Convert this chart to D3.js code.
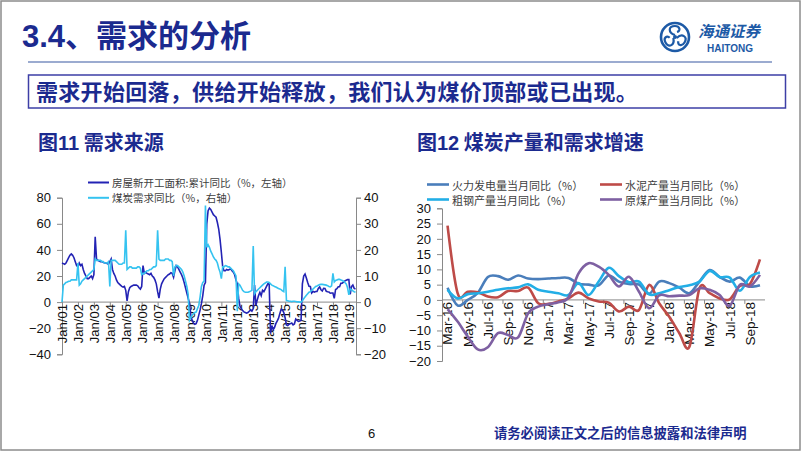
<!DOCTYPE html>
<html><head><meta charset="utf-8">
<script src="https://cdn.jsdelivr.net/npm/d3@7"></script>
<style>body{margin:0;background:#fff}svg{display:block}</style>
</head><body>
<svg id="c" width="802" height="452"></svg>
<script>
// ---------- Figure 11 data (monthly, Jan 2001 - Jun 2019) ----------
const houseStarts = [
 30,29.5,29,30,32,34,36,37,36,34,31,28,
 27,30,28,29,25,22,20,18,18,19,20,18,
 21,50,33,32,31.5,31,31,30.5,30,30,29.5,29,
 31,33,25,22,20,17,15,14,13,12,11.5,12,
 9,1,8,11,12,12.5,13,13,13,12.5,11,10,
 12,28,22,23,22,21.5,21,22,20,19,17,14,
 8,3,10,14,16,18,19,20,21,21.5,22.5,22,
 19,24,28,27,25,23,21,18.5,15,11,7,3,
 -1,-10,-14,-16,-17,-16.5,-14,-10,-6,-1,5,13,
 15,60,70,72,71,69,67,66,65,61,56,48,
 38,27,24,24,25,24.5,25,25.5,24,23,21,17,
 14,3,-3,-5,-6.5,-7.5,-8,-8.5,-8,-7,-6,-7,
 -5,13,-2.5,1.5,5,7.5,5,9,8,10,12,14,
 14,-24,-18,-21,-19.5,-16.5,-14.5,-12.5,-9,-5.5,-6,-8,
 -12,-17.5,-18,-17,-16.5,-16,-17.5,-16.8,-13,-14,-14.7,-14.5,
 -14,14,20,21.5,18.5,15,12.2,12,7,8.2,7.6,8.1,
 8.1,10.4,11.6,9.5,8.5,10.6,10.5,8.3,8,7.8,6.8,7,
 7,2.9,9.7,10.3,11.8,11.8,14.4,14.5,15.3,16.3,16.8,17.2,
 17.2,6,11.9,13.1,10.5,10.1
];
const coalDemand = [
 0,6.5,7,7.5,7.7,8,8,8.5,8.5,8.5,8.5,8.5,
 15,6.5,7,8,8.5,9,9.5,10,10.5,11,11.5,12,
 12.5,16.5,16,16,16,16,15.5,15.5,15,15,15,15.5,
 6,16,16,16,16,15.5,15,14.5,14.5,14.5,15,15,
 27.5,12.5,13,13.5,13.5,13,13,13,13,13.5,13.5,13,
 10.5,11,11,11.5,12,12,12.5,12.5,13,13.5,13.5,14,
 27.5,16.5,16,16,16,16,16.5,16.5,16.5,16,16,15.5,
 10,13.5,14,14,13.5,13,12.5,11.5,10,8,6,3,
 -7,-6,-5,-4.5,-4,-3.8,-2.5,-1.3,2,6,7.5,8,
 37,21,22,21,19.5,18.5,17.3,16.5,16,15,13,11.5,
 9,13.5,13.5,14,13.8,13.5,13.5,13,12.5,12,11,10,
 -3.5,7,6.5,5.5,4.5,4,3.8,3.8,3.8,4,4.2,4.5,
 21.5,3.2,4,4.5,5,5.5,6,6.5,7,7.3,7.7,7.7,
 7.5,7,6.5,6.3,6,5.8,5.5,5.2,5,4.8,4.3,4,
 13.5,0.6,0.5,0.3,0.3,0.2,0.3,0.3,0.2,0.1,0.1,0,
 0,0.5,1.3,2,2.6,3.2,3.8,4,4.5,5,5.5,6,
 6.2,6.5,6.7,6.8,6.8,6.7,6.6,6.5,6.3,6,5.8,6.2,
 11,7.7,8.3,8.5,8.7,8.7,8.5,8.3,8,7.5,7,5.5,
 2.8,5.1,4.8,4.3,4,3.8
];
const yearLabels = ["Jan/01","Jan/02","Jan/03","Jan/04","Jan/05","Jan/06","Jan/07","Jan/08","Jan/09","Jan/10",
  "Jan/11","Jan/12","Jan/13","Jan/14","Jan/15","Jan/16","Jan/17","Jan/18","Jan/19"];
const leftTicks = [-40,-20,0,20,40,60,80];
const rightTicks = [-20,-10,0,10,20,30,40];
const legend11 = ["房屋新开工面积:累计同比（%，左轴）","煤炭需求同比（%，右轴）"];

// ---------- Figure 12 data (monthly, Mar-16 - Oct-18) ----------
const months12 = ["Mar-16","Apr-16","May-16","Jun-16","Jul-16","Aug-16","Sep-16","Oct-16","Nov-16","Dec-16",
  "Jan-17","Feb-17","Mar-17","Apr-17","May-17","Jun-17","Jul-17","Aug-17","Sep-17","Oct-17","Nov-17","Dec-17",
  "Jan-18","Feb-18","Mar-18","Apr-18","May-18","Jun-18","Jul-18","Aug-18","Sep-18","Oct-18"];
const thermalPower = [4.0,-1.8,0.0,2.3,7.5,7.8,6.6,8.0,7.0,6.8,7.0,7.2,7.2,5.3,5.0,4.8,8.0,6.0,5.2,5.0,2.0,6.0,5.5,4.0,2.2,6.0,9.8,7.5,6.0,7.3,4.5,4.8];
const cement = [24.3,2.2,2.7,2.5,1.1,0.9,2.9,2.9,4.0,-1.1,-1.3,-0.5,0.5,2.4,0.5,-0.5,-0.9,-3.8,-2.2,-3.3,4.9,-1.1,-5.5,-10.9,-15.3,3.8,2.2,0.5,0.2,4.6,5.2,13.3];
const crudeSteel = [3.3,0.5,1.9,2.2,2.7,3.3,3.8,4.1,5.1,3.3,2.7,2.2,1.6,5.5,1.6,6.0,10.5,7.8,5.8,6.0,1.8,2.2,3.2,4.2,4.8,6.0,9.5,7.5,7.3,3.0,7.5,9.0];
const rawCoal = [-3.0,-7.1,-12.0,-16.2,-15.5,-10.9,-11.5,-12.3,-4.4,-2.2,-1.4,-0.8,0.8,8.7,12.0,10.9,8.2,4.4,7.6,2.7,-2.7,1.5,1.2,1.4,1.6,3.8,3.3,1.6,-1.9,4.9,4.4,8.2];
const ticks12 = [-20,-15,-10,-5,0,5,10,15,20,25,30];
const legend12 = ["火力发电量当月同比（%）","水泥产量当月同比（%）","粗钢产量当月同比（%）","原煤产量当月同比（%）"];

// ---------- drawing ----------
const svg = d3.select("#c");
const NAVY = "#1b2a8f";
const CJK = "'Noto Sans CJK SC', sans-serif";
const LAT = "'Liberation Sans', Arial, sans-serif";
const AX = "#898989";

// frame
svg.append("rect").attr("x",1).attr("y",1).attr("width",799).attr("height",449)
  .attr("fill","#fff").attr("stroke","#8c8c8c").attr("stroke-width",1.5);

// title
const t = svg.append("text").attr("x",22).attr("y",47).attr("fill",NAVY)
  .attr("font-size",31).attr("font-weight","bold");
t.append("tspan").attr("font-family",LAT).text("3.4");
t.append("tspan").attr("font-family",CJK).text("、需求的分析");
svg.append("line").attr("x1",28).attr("x2",772).attr("y1",62).attr("y2",62)
  .attr("stroke","#7a8fc0").attr("stroke-width",1.5);

// logo
const lg = svg.append("g").attr("transform","translate(675,37)");
lg.append("circle").attr("r",14).attr("fill","none").attr("stroke","#1d5aa6").attr("stroke-width",2.6);
[0,120,240].forEach(a=>{
  lg.append("path").attr("transform",`rotate(${a})`)
    .attr("d","M0,-2 C-7,-4 -7,-11 0,-11 C5,-11 6,-6 2,-5")
    .attr("fill","none").attr("stroke","#1d5aa6").attr("stroke-width",2.2);
});
lg.append("circle").attr("r",2).attr("fill","#1d5aa6");
svg.append("text").attr("x",698).attr("y",37).attr("font-family",CJK).attr("font-size",15.5)
  .attr("font-weight","bold").attr("font-style","italic").attr("fill","#1d5aa6").text("海通证券");
svg.append("text").attr("x",707).attr("y",52).attr("font-family",LAT).attr("font-size",10)
  .attr("font-weight","bold").attr("fill","#1d5aa6").text("HAITONG");

// banner
svg.append("rect").attr("x",28.5).attr("y",75).attr("width",757).attr("height",33)
  .attr("fill","none").attr("stroke","#3d3fa6").attr("stroke-width",1.5);
svg.append("text").attr("x",36).attr("y",100).attr("font-family",CJK).attr("font-size",22)
  .attr("letter-spacing",0.3)
  .attr("font-weight","bold").attr("fill",NAVY).text("需求开始回落，供给开始释放，我们认为煤价顶部或已出现。");

// figure titles
function figTitle(x, num, txt){
  const e = svg.append("text").attr("x",x).attr("y",150).attr("fill",NAVY).attr("font-size",20).attr("font-weight","bold");
  e.append("tspan").attr("font-family",CJK).text("图");
  e.append("tspan").attr("font-family",LAT).text(num);
  e.append("tspan").attr("font-family",CJK).text(txt);
}
figTitle(38,"11"," 需求来源");
figTitle(417,"12","  煤炭产量和需求增速");

function styleAxis(g){
  g.select(".domain").attr("stroke",AX);
  g.selectAll(".tick line").attr("stroke",AX);
  g.selectAll("text").attr("fill","#111").attr("font-family",LAT).attr("font-size",13);
}

// ---------- Figure 11 ----------
const xL = d3.scaleLinear().domain([0, houseStarts.length-1]).range([62, 355.5]);
const yL = d3.scaleLinear().domain([-40,80]).range([354.3,197.7]);
const yR = d3.scaleLinear().domain([-20,40]).range([354.3,197.7]);

svg.append("g").attr("transform","translate(62,0)")
  .call(d3.axisLeft(yL).tickValues(leftTicks).tickSize(5).tickPadding(6)).call(styleAxis);
svg.append("g").attr("transform","translate(356,0)")
  .call(d3.axisRight(yR).tickValues(rightTicks).tickSize(5).tickPadding(3)).call(styleAxis);
const gx1 = svg.append("g").attr("transform",`translate(0,${yL(0)})`)
  .call(d3.axisBottom(xL).tickValues(yearLabels.map((d,i)=>i*12)).tickSize(4)
  .tickFormat((d,i)=>yearLabels[i])).call(styleAxis);
gx1.select(".domain").attr("d",`M62,0H356`);
gx1.selectAll("text").attr("transform","rotate(-90)").attr("x",-2).attr("y",0).attr("dy","0.36em")
  .style("text-anchor","end");

const lineL = d3.line().x((d,i)=>xL(i)).y(d=>yL(d));
const lineR = d3.line().x((d,i)=>xL(i)).y(d=>yR(d));
const C_DARK = "#2323b4", C_CYAN = "#35c3f0";
svg.append("path").datum(houseStarts).attr("d",lineL).attr("fill","none").attr("stroke",C_DARK).attr("stroke-width",1.6);
svg.append("path").datum(coalDemand).attr("d",lineR).attr("fill","none").attr("stroke",C_CYAN).attr("stroke-width",1.6);

[[C_DARK,182.5],[C_CYAN,197.8]].forEach(([c,y],i)=>{
  svg.append("line").attr("x1",88).attr("x2",109).attr("y1",y).attr("y2",y).attr("stroke",c).attr("stroke-width",2);
  svg.append("text").attr("x",112).attr("y",y).attr("dominant-baseline","central").attr("font-family",CJK)
    .attr("font-size",10.5).attr("fill","#404040").text(legend11[i]);
});

// ---------- Figure 12 ----------
const x2 = d3.scaleBand().domain(months12).range([442.5,765]);
const cx = d => x2(d) + x2.bandwidth()/2;
const y2 = d3.scaleLinear().domain([-20,30]).range([361,208.3]);

svg.append("g").attr("transform","translate(442,0)")
  .call(d3.axisLeft(y2).tickValues(ticks12).tickSize(5).tickPadding(6)).call(styleAxis);
const gx2 = svg.append("g").attr("transform",`translate(0,${y2(0)})`)
  .call(d3.axisBottom(x2).tickValues(months12.filter((d,i)=>i%2===0)).tickSize(0)).call(styleAxis);
gx2.select(".domain").attr("d","M442,0H765");
gx2.selectAll("text").attr("transform","rotate(-90)").attr("x",-2).attr("y",0).attr("dy","0.36em")
  .attr("font-size",13.5).style("text-anchor","end");
months12.forEach((m,i)=>{ if(i%2===0){
  svg.append("line").attr("x1",x2(m)).attr("x2",x2(m)).attr("y1",y2(0)).attr("y2",y2(0)+4).attr("stroke",AX);
}});

const cols12 = ["#4a7ebb","#be4b48","#22aee6","#7e60a2"];
const series12 = [thermalPower, cement, crudeSteel, rawCoal];
const line2 = d3.line().x((d,i)=>cx(months12[i])).y(d=>y2(d)).curve(d3.curveCardinal.tension(0));
series12.forEach((s,k)=>{
  svg.append("path").datum(s).attr("d",line2).attr("fill","none").attr("stroke",cols12[k])
    .attr("stroke-width",2.6).attr("stroke-linejoin","round");
});
const legPos = [[427,184.5],[600,184.5],[427,199.5],[600,199.5]];
legPos.forEach(([x,y],k)=>{
  svg.append("line").attr("x1",x).attr("x2",x+22).attr("y1",y).attr("y2",y).attr("stroke",cols12[k]).attr("stroke-width",2.6);
  svg.append("text").attr("x",x+25).attr("y",y).attr("dominant-baseline","central").attr("font-family",CJK)
    .attr("font-size",11).attr("fill","#404040").text(legend12[k]);
});

// footer
svg.append("text").attr("x",368).attr("y",437.5).attr("font-family",LAT).attr("font-size",13).attr("fill","#111").text("6");
svg.append("text").attr("x",494).attr("y",437.5).attr("font-family",CJK).attr("font-size",13.3)
  .attr("font-weight","bold").attr("fill",NAVY).text("请务必阅读正文之后的信息披露和法律声明");
</script>
</body></html>
